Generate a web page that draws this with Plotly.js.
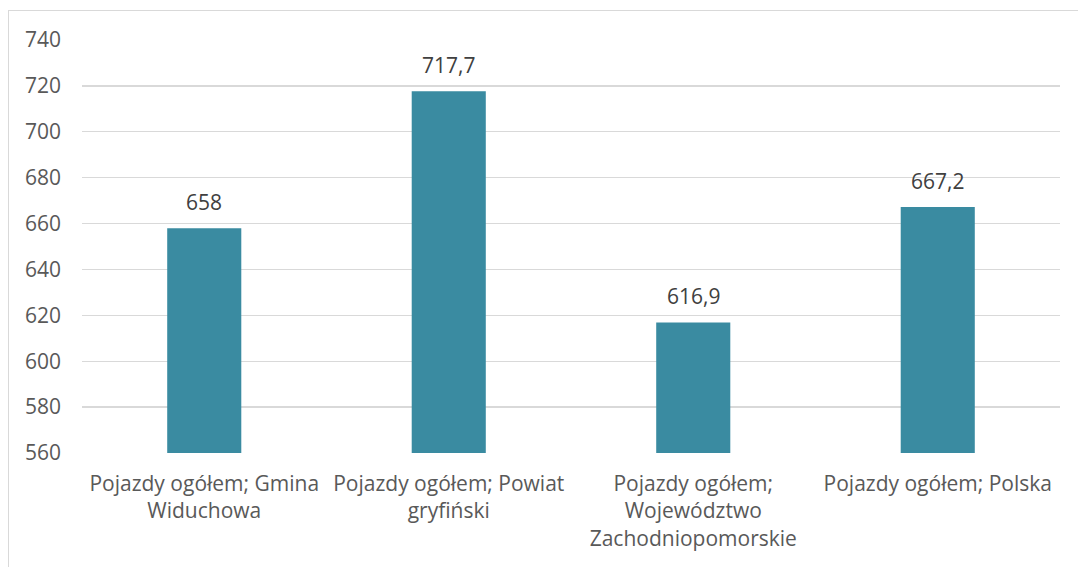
<!DOCTYPE html>
<html>
<head>
<meta charset="utf-8">
<script src="https://cdn.plot.ly/plotly-3.0.1.min.js"></script>
<style>
  html, body { margin: 0; padding: 0; background: #fff; }
  #chart { width: 1078px; height: 567px; position: relative; }
  #frame { position: absolute; left: 8px; top: 10px; width: 1080px; height: 570px;
           border-left: 1.5px solid #d9d9d9; border-top: 1.5px solid #d9d9d9; pointer-events: none; }
</style>
</head>
<body>
<div id="chart"></div>
<div id="frame"></div>
<script>
const categories = [
  "Pojazdy ogółem; Gmina<br>Widuchowa",
  "Pojazdy ogółem; Powiat<br>gryfiński",
  "Pojazdy ogółem;<br>Województwo<br>Zachodniopomorskie",
  "Pojazdy ogółem; Polska"
];
const values = [658, 717.7, 616.9, 667.2];
const yTicks = [560, 580, 600, 620, 640, 660, 680, 700, 720, 740];

const labels = values.map(v => String(v).replace('.', ','));
const FONT = 'Open Sans, sans-serif';

const trace = {
  type: 'bar',
  x: categories,
  y: values,
  marker: { color: '#3A8BA1' },
  hoverinfo: 'none'
};

const annotations = categories.map((c, i) => ({
  x: c, y: values[i], xref: 'x', yref: 'y',
  text: labels[i], showarrow: false,
  yanchor: 'bottom', yshift: 10,
  font: { family: FONT, size: 21, color: '#404040' }
}));

const layout = {
  width: 1078, height: 567,
  margin: { l: 82, r: 18, t: 40, b: 114 },
  paper_bgcolor: '#fff', plot_bgcolor: '#fff',
  bargap: 0.697,
  showlegend: false,
  annotations: annotations,
  font: { family: FONT, size: 21, color: '#595959' },
  xaxis: {
    type: 'category',
    tickfont: { family: FONT, size: 21, color: '#595959' },
    showgrid: false, zeroline: false, showline: false, ticks: '',
    tickangle: 0, automargin: false, ticklabelstandoff: 16
  },
  yaxis: {
    range: [560, 740],
    tickvals: yTicks,
    ticktext: yTicks.map(String),
    tickfont: { family: FONT, size: 21, color: '#595959' },
    showgrid: true, gridcolor: '#d9d9d9', gridwidth: 1.3,
    zeroline: false, showline: false, ticks: '', ticklabelstandoff: 20,
    automargin: false
  }
};

Plotly.newPlot('chart', [trace], layout, { staticPlot: true, displayModeBar: false });
</script>
</body>
</html>
